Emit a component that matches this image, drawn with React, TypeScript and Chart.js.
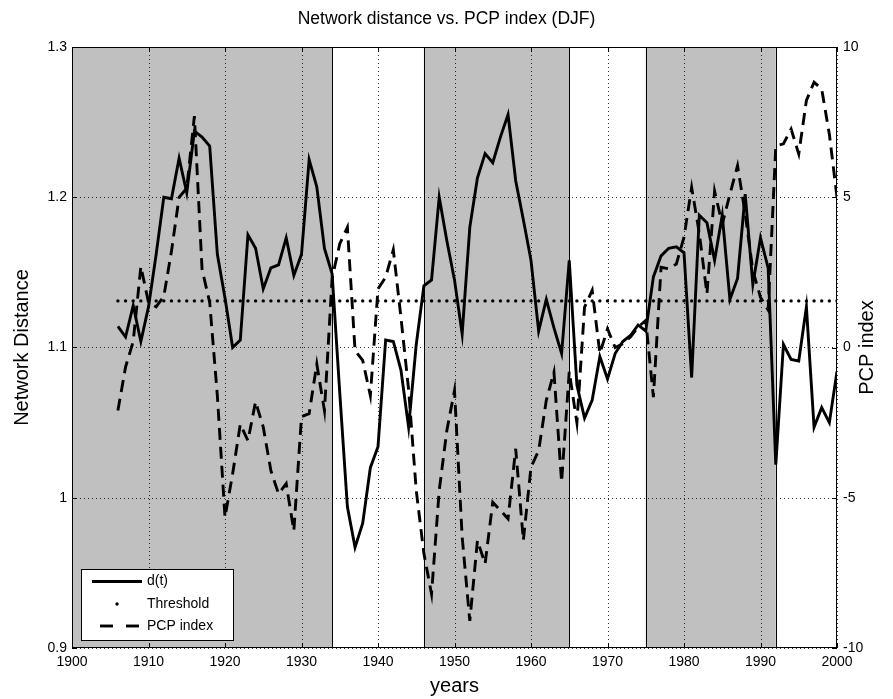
import React, { useEffect, useRef } from "react";
import { Chart, registerables } from "chart.js";

Chart.register(...registerables);

const years = [
  1906, 1907, 1908, 1909,
  1910, 1911, 1912, 1913, 1914, 1915, 1916, 1917, 1918, 1919,
  1920, 1921, 1922, 1923, 1924, 1925, 1926, 1927, 1928, 1929,
  1930, 1931, 1932, 1933, 1934, 1935, 1936, 1937, 1938, 1939,
  1940, 1941, 1942, 1943, 1944, 1945, 1946, 1947, 1948, 1949,
  1950, 1951, 1952, 1953, 1954, 1955, 1956, 1957, 1958, 1959,
  1960, 1961, 1962, 1963, 1964, 1965, 1966, 1967, 1968, 1969,
  1970, 1971, 1972, 1973, 1974, 1975, 1976, 1977, 1978, 1979,
  1980, 1981, 1982, 1983, 1984, 1985, 1986, 1987, 1988, 1989,
  1990, 1991, 1992, 1993, 1994, 1995, 1996, 1997, 1998, 1999,
  2000,
];

const networkDistance = [
  1.114, 1.107, 1.128, 1.104,
  1.127, 1.162, 1.2, 1.199, 1.226, 1.203, 1.244, 1.24, 1.234, 1.162,
  1.133, 1.1, 1.105, 1.175, 1.166, 1.139, 1.153, 1.155, 1.173, 1.148,
  1.162, 1.225, 1.207, 1.166, 1.149, 1.07, 0.994, 0.967, 0.983, 1.02,
  1.034, 1.105, 1.104, 1.085, 1.047, 1.102, 1.141, 1.145, 1.2, 1.171,
  1.145, 1.109, 1.18, 1.213, 1.229, 1.223, 1.24, 1.255, 1.211, 1.185,
  1.158, 1.111, 1.132, 1.113, 1.096, 1.158, 1.075, 1.053, 1.065, 1.094,
  1.079, 1.096, 1.104, 1.108, 1.115, 1.111, 1.147, 1.161, 1.166, 1.167,
  1.163, 1.08, 1.188, 1.183, 1.158, 1.188, 1.132, 1.146, 1.202, 1.142,
  1.173, 1.153, 1.022, 1.102, 1.092, 1.091, 1.127, 1.047, 1.06, 1.05,
  1.084,
];

const pcpIndex = [
  -2.1, -0.65, 0.2, 2.7,
  1.5, 1.35, 1.7, 3.2, 5.0, 5.3, 7.7, 2.6, 1.5, -1.6,
  -5.65, -4.2, -2.55, -3.1, -1.8, -2.65, -4.1, -4.87, -4.53, -6.1,
  -2.3, -2.2, -0.55, -2.1, 2.3, 3.45, 4.0, -0.1, -0.43, -1.6,
  1.95, 2.34, 3.25, 1.0, -1.4, -4.76, -6.86, -8.2, -4.76, -2.76,
  -1.43, -6.3, -9.1, -6.42, -7.2, -5.15, -5.42, -5.7, -3.37, -6.42,
  -3.98, -3.43, -1.76, -0.82, -4.48, -0.8, -2.5, 1.34, 1.9, -0.2,
  0.62, 0.0, 0.12, 0.35, 0.68, 0.9, -1.65, 2.67, 2.62, 2.78,
  3.67, 5.33, 3.8, 1.78, 5.2, 4.1, 5.1, 6.05, 4.45, 2.56,
  1.67, 1.25, 6.7, 6.78, 7.27, 6.44, 8.22, 8.83, 8.6, 7.1,
  5.0,
];

const THRESHOLD = 1.131;

const shadedPeriods = [
  [1900, 1934],
  [1946, 1965],
  [1975, 1992],
];

const xTicks = [1900, 1910, 1920, 1930, 1940, 1950, 1960, 1970, 1980, 1990, 2000];
const leftTicks = [0.9, 1, 1.1, 1.2, 1.3];
const rightTicks = [-10, -5, 0, 5, 10];

const TITLE = "Network distance vs. PCP index (DJF)";
const X_LABEL = "years";
const LEFT_LABEL = "Network Distance";
const RIGHT_LABEL = "PCP index";

const FONT = "'Liberation Sans', Arial, Helvetica, sans-serif";
const LABEL_SIZE = 20;
const LINE_W = 2.9;
const W = 893;
const H = 699;

const framePlugin = {
  id: "matlabFrame",
  beforeDatasetsDraw(chart: any) {
    const { ctx, chartArea: a, scales } = chart;
    const xs = scales.x;
    const ys = scales.y;
    ctx.save();
    ctx.fillStyle = "#c0c0c0";
    for (const [s, e] of shadedPeriods) {
      const p0 = xs.getPixelForValue(s);
      const p1 = xs.getPixelForValue(e);
      ctx.fillRect(p0, a.top, p1 - p0, a.bottom - a.top);
    }
    ctx.setLineDash([1, 3]);
    ctx.lineWidth = 1;
    ctx.strokeStyle = "rgba(0,0,0,0.8)";
    for (const t of xTicks) {
      const px = Math.round(xs.getPixelForValue(t)) + 0.5;
      ctx.beginPath();
      ctx.moveTo(px, a.top);
      ctx.lineTo(px, a.bottom);
      ctx.stroke();
    }
    for (const t of leftTicks) {
      const py = Math.round(ys.getPixelForValue(t)) + 0.5;
      ctx.beginPath();
      ctx.moveTo(a.left, py);
      ctx.lineTo(a.right, py);
      ctx.stroke();
    }
    ctx.setLineDash([]);
    ctx.strokeStyle = "#000";
    ctx.lineWidth = 1;
    for (const [s, e] of shadedPeriods) {
      for (const v of [s, e]) {
        const px = Math.round(xs.getPixelForValue(v)) + 0.5;
        ctx.beginPath();
        ctx.moveTo(px, a.top);
        ctx.lineTo(px, a.bottom);
        ctx.stroke();
      }
    }
    ctx.restore();
  },
  afterDatasetsDraw(chart: any) {
    const { ctx, chartArea: a, scales } = chart;
    const xs = scales.x;
    const ys = scales.y;
    const y1 = scales.y1;
    ctx.save();
    ctx.strokeStyle = "#000";
    ctx.lineWidth = 1;
    ctx.strokeRect(a.left + 0.5, a.top + 0.5, a.right - a.left - 1, a.bottom - a.top - 1);
    const tl = 5;
    ctx.beginPath();
    for (const t of xTicks) {
      const px = Math.round(xs.getPixelForValue(t)) + 0.5;
      ctx.moveTo(px, a.bottom);
      ctx.lineTo(px, a.bottom - tl);
      ctx.moveTo(px, a.top);
      ctx.lineTo(px, a.top + tl);
    }
    for (const t of leftTicks) {
      const py = Math.round(ys.getPixelForValue(t)) + 0.5;
      ctx.moveTo(a.left, py);
      ctx.lineTo(a.left + tl, py);
    }
    for (const t of rightTicks) {
      const py = Math.round(y1.getPixelForValue(t)) + 0.5;
      ctx.moveTo(a.right, py);
      ctx.lineTo(a.right - tl, py);
    }
    ctx.stroke();
    ctx.restore();
  },
  afterDraw(chart: any) {
    const { ctx, chartArea: a } = chart;
    const ds = chart.data.datasets;
    ctx.save();
    ctx.fillStyle = "#000";
    ctx.font = `${LABEL_SIZE}px ${FONT}`;
    ctx.textAlign = "center";
    ctx.textBaseline = "middle";
    ctx.translate(867, (a.top + a.bottom) / 2);
    ctx.rotate(-Math.PI / 2);
    ctx.fillText(RIGHT_LABEL, 0, 0);
    ctx.restore();

    ctx.save();
    const lx = a.left + 9;
    const ly = a.bottom - 79;
    const lw = 152;
    const lh = 71;
    ctx.fillStyle = "#fff";
    ctx.fillRect(lx, ly, lw, lh);
    ctx.strokeStyle = "#000";
    ctx.lineWidth = 1;
    ctx.strokeRect(lx + 0.5, ly + 0.5, lw, lh);
    const rows = [ly + 12.5, ly + 35, ly + 57];
    ctx.font = `14px ${FONT}`;
    ctx.textAlign = "left";
    ctx.textBaseline = "middle";
    ctx.fillStyle = "#000";
    ctx.lineWidth = LINE_W;
    ctx.beginPath();
    ctx.moveTo(lx + 11, rows[0]);
    ctx.lineTo(lx + 61, rows[0]);
    ctx.stroke();
    ctx.fillText(ds[0].label, lx + 66, rows[0]);
    ctx.beginPath();
    ctx.arc(lx + 36, rows[1], 1.7, 0, Math.PI * 2);
    ctx.fill();
    ctx.fillText(ds[1].label, lx + 66, rows[1]);
    ctx.setLineDash([13, 13]);
    ctx.beginPath();
    ctx.moveTo(lx + 19, rows[2]);
    ctx.lineTo(lx + 61, rows[2]);
    ctx.stroke();
    ctx.setLineDash([]);
    ctx.fillText(ds[2].label, lx + 66, rows[2]);
    ctx.restore();
  },
};

export default function App() {
  const canvasRef = useRef<HTMLCanvasElement | null>(null);

  useEffect(() => {
    const canvas = canvasRef.current;
    if (!canvas) return;
    Chart.defaults.font.family = FONT;
    Chart.defaults.color = "#000";

    const chart = new Chart(canvas, {
      type: "line",
      data: {
        datasets: [
          {
            label: "d(t)",
            data: years.map((y, i) => ({ x: y, y: networkDistance[i] })),
            yAxisID: "y",
            borderColor: "#000",
            borderWidth: LINE_W,
            pointRadius: 0,
            tension: 0,
            fill: false,
          },
          {
            label: "Threshold",
            data: years.map((y) => ({ x: y, y: THRESHOLD })),
            yAxisID: "y",
            showLine: false,
            pointRadius: 1.7,
            pointBorderWidth: 0,
            pointBackgroundColor: "#000",
            borderColor: "#000",
          },
          {
            label: "PCP index",
            data: years.map((y, i) => ({ x: y, y: pcpIndex[i] })),
            yAxisID: "y1",
            borderColor: "#000",
            borderWidth: LINE_W,
            borderDash: [12, 7],
            pointRadius: 0,
            tension: 0,
            fill: false,
          },
        ],
      },
      options: {
        animation: false,
        responsive: false,
        devicePixelRatio: 1,
        layout: { padding: 0 },
        plugins: {
          legend: { display: false },
          tooltip: { enabled: false },
          title: {
            display: true,
            text: TITLE,
            color: "#000",
            font: { size: 17.5, weight: "normal", family: FONT },
            padding: { top: 9, bottom: 17 },
          },
        },
        scales: {
          x: {
            type: "linear",
            min: 1900,
            max: 2000,
            afterBuildTicks: (s: any) => {
              s.ticks = xTicks.map((v) => ({ value: v }));
            },
            ticks: {
              callback: (v: any) => String(v),
              font: { size: 14, family: FONT },
              color: "#000",
              padding: 6,
              maxRotation: 0,
              autoSkip: false,
            },
            grid: { display: false, drawTicks: false },
            border: { display: false },
            title: {
              display: true,
              text: X_LABEL,
              color: "#000",
              font: { size: LABEL_SIZE, family: FONT },
              padding: { top: 0, bottom: 1 },
            },
            afterFit: (s: any) => {
              s.height = 51;
            },
          },
          y: {
            type: "linear",
            position: "left",
            min: 0.9,
            max: 1.3,
            afterBuildTicks: (s: any) => {
              s.ticks = leftTicks.map((v) => ({ value: v }));
            },
            ticks: {
              callback: (v: any) => String(Number(Number(v).toFixed(1))),
              font: { size: 14, family: FONT },
              color: "#000",
              padding: 5,
              autoSkip: false,
            },
            grid: { display: false, drawTicks: false },
            border: { display: false },
            title: {
              display: true,
              text: LEFT_LABEL,
              color: "#000",
              font: { size: LABEL_SIZE, family: FONT },
              padding: { top: 10, bottom: 0 },
            },
            afterFit: (s: any) => {
              s.width = 72;
            },
          },
          y1: {
            type: "linear",
            position: "right",
            min: -10,
            max: 10,
            afterBuildTicks: (s: any) => {
              s.ticks = rightTicks.map((v) => ({ value: v }));
            },
            ticks: {
              callback: (v: any) => String(v),
              font: { size: 14, family: FONT },
              color: "#000",
              padding: 6,
              autoSkip: false,
            },
            grid: { display: false, drawTicks: false },
            border: { display: false },
            afterFit: (s: any) => {
              s.width = 56;
            },
          },
        },
      },
      plugins: [framePlugin],
    });

    return () => {
      chart.destroy();
    };
  }, []);

  return (
    <div style={{ position: "fixed", left: 0, top: 0, width: W, height: H, background: "#fff" }}>
      <canvas ref={canvasRef} width={W} height={H} style={{ display: "block" }} />
    </div>
  );
}
